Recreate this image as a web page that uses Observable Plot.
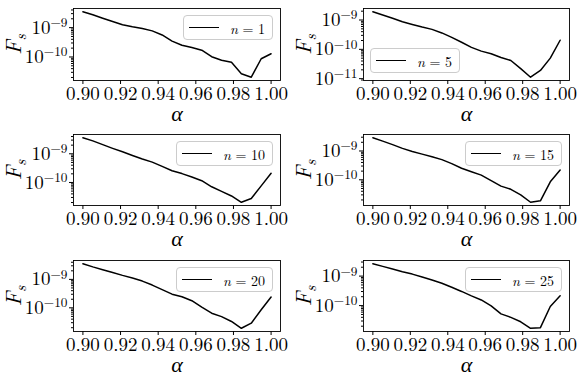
<!DOCTYPE html>
<html><head><meta charset="utf-8">
<script src="https://cdn.jsdelivr.net/npm/d3@7"></script>
<script src="https://cdn.jsdelivr.net/npm/@observablehq/plot@0.6"></script>
<style>
html,body{margin:0;padding:0;background:#fff;}
#fig{position:relative;width:581px;height:381px;overflow:hidden;font-family:'Latin Modern Roman','Liberation Serif',serif;background:#fff;}
.legend{position:absolute;display:flex;align-items:center;height:25px;box-sizing:border-box;border:1px solid #cccccc;border-radius:4px;background:rgba(255,255,255,0.8);padding:0 7px 0 5px;font-family:'Latin Modern Roman','Liberation Serif',serif;font-size:14px;color:#000;white-space:pre;}
.legend .sw{width:30px;height:0;border-top:1.5px solid #000;margin-right:11px;}
</style></head><body><div id="fig"></div>
<script>
// alpha grid
const alpha = [0.9, 0.90526, 0.91053, 0.91579, 0.92105, 0.92632, 0.93158, 0.93684, 0.94211, 0.94737,
               0.95263, 0.95789, 0.96316, 0.96842, 0.97368, 0.97895, 0.98421, 0.98947, 0.99474, 1.0];
// F_s series for each n
const Fs_n1  = [3.47e-9, 2.75e-9, 2.09e-9, 1.62e-9, 1.26e-9, 1.07e-9, 9.33e-10, 7.76e-10, 5.62e-10, 3.47e-10,
                2.51e-10, 2.09e-10, 1.70e-10, 1.02e-10, 7.76e-11, 6.61e-11, 2.69e-11, 2.04e-11, 8.71e-11, 1.29e-10];
const Fs_n5  = [1.91e-9, 1.48e-9, 1.15e-9, 8.71e-10, 7.08e-10, 5.75e-10, 4.79e-10, 3.63e-10, 2.57e-10, 1.74e-10,
                1.17e-10, 8.71e-11, 7.08e-11, 5.25e-11, 4.17e-11, 2.19e-11, 1.12e-11, 1.91e-11, 5.01e-11, 2.04e-10];
const Fs_n10 = [3.63e-9, 2.82e-9, 2.09e-9, 1.55e-9, 1.17e-9, 8.71e-10, 6.61e-10, 5.13e-10, 3.63e-10, 2.57e-10,
                2.04e-10, 1.55e-10, 1.15e-10, 7.08e-11, 4.90e-11, 3.39e-11, 2.04e-11, 2.75e-11, 7.59e-11, 2.09e-10];
const Fs_n15 = [2.88e-9, 2.19e-9, 1.66e-9, 1.23e-9, 9.55e-10, 7.76e-10, 6.31e-10, 5.01e-10, 3.63e-10, 2.51e-10,
                1.91e-10, 1.45e-10, 9.33e-11, 6.03e-11, 4.68e-11, 3.02e-11, 1.66e-11, 1.86e-11, 8.51e-11, 2.19e-10];
const Fs_n20 = [3.55e-9, 2.75e-9, 2.19e-9, 1.74e-9, 1.38e-9, 1.12e-9, 8.71e-10, 6.31e-10, 4.37e-10, 3.02e-10,
                2.45e-10, 1.78e-10, 1.05e-10, 6.46e-11, 4.90e-11, 3.31e-11, 1.91e-11, 2.88e-11, 8.51e-11, 2.40e-10];
const Fs_n25 = [2.63e-9, 2.14e-9, 1.74e-9, 1.41e-9, 1.17e-9, 9.33e-10, 7.41e-10, 5.75e-10, 4.17e-10, 3.02e-10,
                2.14e-10, 1.55e-10, 9.77e-11, 5.25e-11, 3.98e-11, 2.82e-11, 1.70e-11, 1.78e-11, 9.33e-11, 2.14e-10];
const nValues = [1, 5, 10, 15, 20, 25];
const seriesList = [Fs_n1, Fs_n5, Fs_n10, Fs_n15, Fs_n20, Fs_n25];
const legendLoc = ["upper right", "lower left", "upper right", "upper right", "upper right", "upper right"];
const xTicks = [0.90, 0.92, 0.94, 0.96, 0.98, 1.00];
const xLabel = "α";
const yLabel = "F_s";

const FONT = "'Latin Modern Roman', 'Liberation Serif', serif";
const NS = "http://www.w3.org/2000/svg";
const fig = document.getElementById("fig");
const colLeft = [0, 290], colWidth = [290, 291], frameRight = [280, 569];
const rowTop = [0, 126, 252], rowHeight = [126, 126, 129], frameBottomRel = [80, 79, 79];
const frameLeftRel = 73, frameTopRel = 8;

function logExtentPadded(values) {
  const [lo, hi] = d3.extent(values).map(Math.log10);
  const p = 0.05 * (hi - lo);
  return [Math.pow(10, lo - p), Math.pow(10, hi + p)];
}

seriesList.forEach((vals, i) => {
  const col = i % 2, row = Math.floor(i / 2);
  const W = colWidth[col], H = rowHeight[row];
  const mr = W - (frameRight[col] - colLeft[col]);
  const mb = H - frameBottomRel[row];
  const ydom = logExtentPadded(vals);
  const e0 = Math.ceil(Math.log10(ydom[0])), e1 = Math.floor(Math.log10(ydom[1]));
  const major = d3.range(e0, e1 + 1).map(e => Math.pow(10, e));
  const minor = [];
  for (let e = Math.floor(Math.log10(ydom[0])); e <= e1; e++)
    for (let k = 2; k <= 9; k++) { const v = k * Math.pow(10, e); if (v >= ydom[0] && v <= ydom[1]) minor.push(v); }
  const data = alpha.map((a, j) => ({alpha: a, Fs: vals[j]}));
  const svg = Plot.plot({
    width: W, height: H,
    marginLeft: frameLeftRel, marginRight: mr, marginTop: frameTopRel, marginBottom: mb,
    style: {fontFamily: FONT, fontSize: "19px", background: "#fff", color: "#000", overflow: "visible"},
    x: {domain: [0.895, 1.005]},
    y: {type: "log", domain: ydom},
    marks: [
      Plot.axisX({ticks: xTicks, tickFormat: d3.format(".2f"), tickSize: 4, tickPadding: 2, fontSize: 19,
                  fontFamily: FONT, fontVariant: "normal",
                  label: xLabel, labelAnchor: "center", labelOffset: 40, labelArrow: "none"}),
      Plot.axisY({ticks: minor, tickSize: 2, tickFormat: () => "", label: null}),
      Plot.axisY({ticks: major, tickSize: 4, tickPadding: 2, fontSize: 19, fontFamily: FONT, fontVariant: "normal",
                  tickFormat: d => "\u2212" + Math.round(-Math.log10(d)),
                  label: yLabel, labelAnchor: "center", labelOffset: 68, labelArrow: "none"}),
      Plot.line(data, {x: "alpha", y: "Fs", stroke: "#000", strokeWidth: 1.5}),
      Plot.frame({stroke: "#000", strokeWidth: 0.9})
    ]
  });
  svg.setAttribute("font-family", FONT);
  svg.style.fontFamily = FONT;
  svg.style.position = "absolute";
  svg.style.left = colLeft[col] + "px";
  svg.style.top = rowTop[row] + "px";
  // exponent tick labels: 10^e
  svg.querySelectorAll('g[aria-label="y-axis tick label"] text').forEach(t => {
    const ex = t.textContent;
    if (!ex) return;
    t.textContent = "";
    const a = document.createElementNS(NS, "tspan"); a.textContent = "10";
    const b = document.createElementNS(NS, "tspan"); b.textContent = ex;
    b.setAttribute("dy", "-0.5em"); b.setAttribute("font-size", "0.7em");
    t.append(a, b);
  });
  // axis labels
  svg.querySelectorAll('g[aria-label="x-axis label"]').forEach(g => {
    g.setAttribute("font-size", "22px"); g.setAttribute("font-style", "italic"); g.setAttribute("font-family", FONT);
  });
  svg.querySelectorAll('g[aria-label="y-axis label"]').forEach(g => {
    g.setAttribute("font-size", "22px"); g.setAttribute("font-style", "italic"); g.setAttribute("font-family", FONT);
    g.querySelectorAll("text").forEach(t => {
      t.textContent = "";
      const a = document.createElementNS(NS, "tspan"); a.textContent = "F";
      const b = document.createElementNS(NS, "tspan"); b.textContent = "s";
      b.setAttribute("dy", "0.3em"); b.setAttribute("font-size", "0.7em");
      t.append(a, b);
    });
  });
  fig.appendChild(svg);

  // legend
  const lg = document.createElement("div");
  lg.className = "legend";
  lg.innerHTML = '<div class="sw"></div><span><i>n</i> = ' + nValues[i] + '</span>';
  const fL = colLeft[col] + frameLeftRel, fR = frameRight[col];
  const fT = rowTop[row] + frameTopRel, fB = rowTop[row] + frameBottomRel[row];
  if (legendLoc[i] === "upper right") { lg.style.right = (581 - fR + 7) + "px"; lg.style.top = (fT + 7) + "px"; }
  else { lg.style.left = (fL + 7) + "px"; lg.style.top = (fB - 7 - 25) + "px"; }
  fig.appendChild(lg);
});
</script></body></html>
